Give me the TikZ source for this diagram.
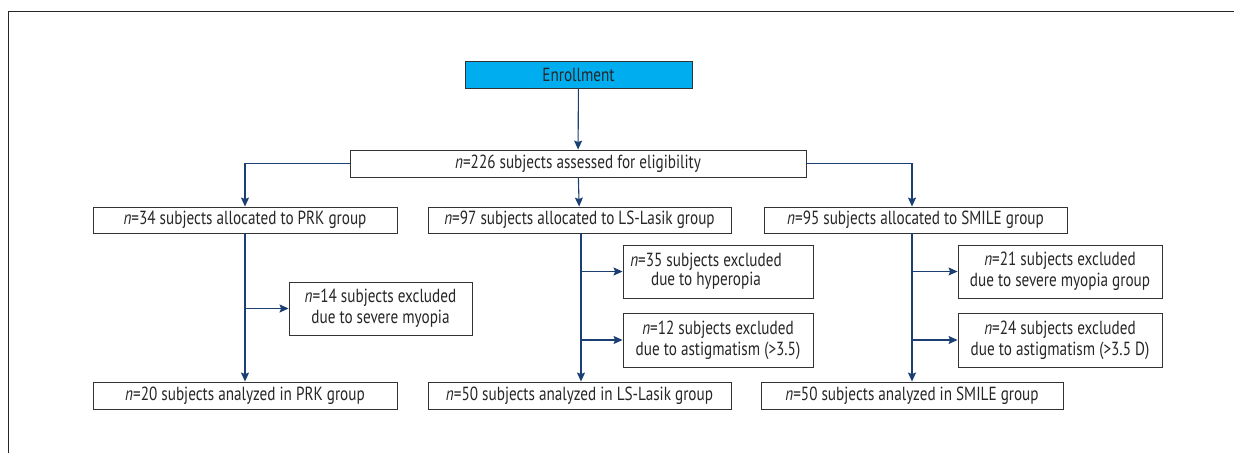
\documentclass[tikz,border=0pt]{standalone}
\usepackage{fontspec}
\setmainfont[FakeStretch=0.8]{PT Sans}
\usetikzlibrary{arrows.meta,positioning}
\definecolor{linec}{HTML}{1B3F73}
\definecolor{boxc}{HTML}{333333}
\definecolor{enrc}{HTML}{00AEEF}
\tikzset{
  x=1pt,y=-1pt,
  box/.style={draw=boxc,line width=0.9pt,inner sep=0pt,align=center,font=\fontsize{19}{21}\selectfont,text=black!85},
  arr/.style={draw=linec,line width=1.1pt,-{Stealth[length=9pt,width=8pt,inset=1.5pt]}},
  ln/.style={draw=linec,line width=1.1pt}
}
\begin{document}
\begin{tikzpicture}
\useasboundingbox (0,0) rectangle (1234,453);
\draw[line width=1pt,black!85] (1234,11) -- (8,11) -- (8,453);
% nodes
\node[box,fill=enrc,minimum width=227pt,minimum height=27pt] (enr) at (578.5,74.5) {Enrollment};
\node[box,minimum width=456pt,minimum height=27pt] (elig) at (578,163.5) {\textit{n}=226 subjects assessed for eligibility};
\node[box,minimum width=304pt,minimum height=26pt] (prk) at (245,220) {\textit{n}=34 subjects allocated to PRK group};
\node[box,minimum width=303pt,minimum height=26pt] (ls) at (579.5,220) {\textit{n}=97 subjects allocated to LS-Lasik group};
\node[box,minimum width=303pt,minimum height=26pt] (sm) at (915.5,220) {\textit{n}=95 subjects allocated to SMILE group};
\node[box,minimum width=183pt,minimum height=53pt] (prkx) at (380.5,308.5) {\textit{n}=14 subjects excluded\\due to severe myopia};
\node[box,minimum width=190pt,minimum height=53pt] (lsx1) at (718,271.5) {\begin{tabular}{@{}c@{}}\textit{n}=35 subjects excluded\\[-2pt]due to hyperopia\end{tabular}\hspace{24pt}};
\node[box,minimum width=190pt,minimum height=54pt] (lsx2) at (718,340) {\textit{n}=12 subjects excluded\\due to astigmatism (>3.5)};
\node[box,minimum width=204pt,minimum height=53pt] (smx1) at (1060,271.5) {\textit{n}=21 subjects excluded\\due to severe myopia group};
\node[box,minimum width=204pt,minimum height=54pt] (smx2) at (1060,340) {\textit{n}=24 subjects excluded\\due to astigmatism (>3.5 D)};
\node[box,minimum width=304pt,minimum height=27pt] (prka) at (245,395.5) {\textit{n}=20 subjects analyzed in PRK group};
\node[box,minimum width=303pt,minimum height=27pt] (lsa) at (579.5,395.5) {\textit{n}=50 subjects analyzed in LS-Lasik group};
\node[box,minimum width=302pt,minimum height=27pt] (sma) at (912,395.5) {\textit{n}=50 subjects analyzed in SMILE group};
% connectors
\draw[arr] (enr) -- (elig);
\draw[arr] (elig) -- (ls);
\draw[arr] (elig.west) -| (prk.north);
\draw[arr] (elig.east) -| (sm.north -| sma.north);
\draw[arr] (prk) -- (prka);
\draw[arr] (prk.south |- prkx.west) -- (prkx.west);
\draw[arr] (ls.south) ++(1.5,0) -- (lsa.north -| 581,0);
\draw[arr] (581,0 |- lsx1.west) -- (lsx1.west);
\draw[arr] (581,0 |- lsx2.west) -- (lsx2.west);
\draw[arr] (sm.south -| sma.north) -- (sma.north);
\draw[arr] (sma.north |- smx1.west) -- (smx1.west);
\draw[arr] (sma.north |- smx2.west) -- (smx2.west);
\end{tikzpicture}
\end{document}
